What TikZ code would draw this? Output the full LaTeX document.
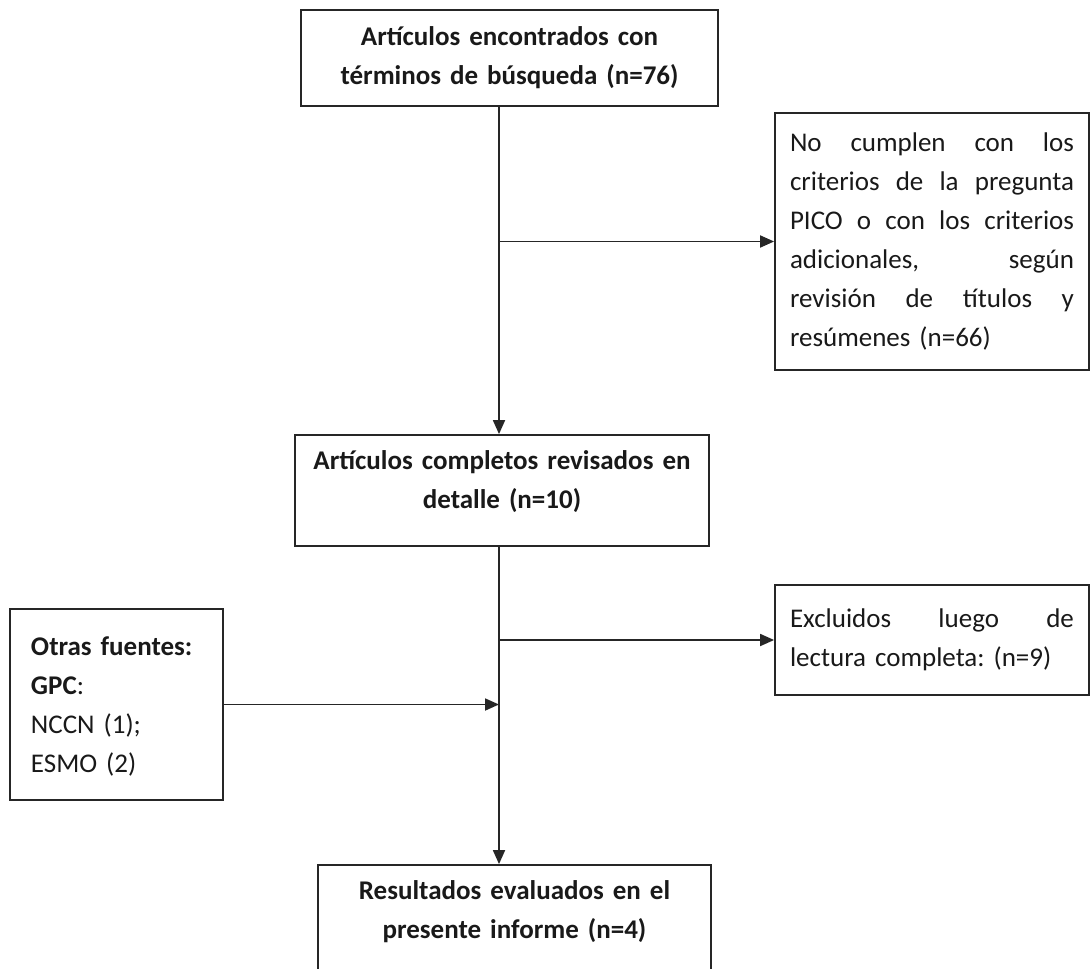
\documentclass[tikz,border=0pt]{standalone}
\usepackage{fontspec}
\setmainfont{Carlito}
\frenchspacing
\usetikzlibrary{arrows.meta}
\newcommand{\jline}[1]{\makebox[142pt][s]{#1}\\}
\tikzset{
  box/.style = {draw=black!85, line width=0.9pt, inner sep=0pt, text=black!90, font=\fontsize{13.5}{19.5}\selectfont},
  mainbox/.style = {box, align=center, font=\bfseries\fontsize{13.5}{19.5}\selectfont},
  sidebox/.style = {box, align=left},
  flow/.style = {draw=black!85, line width=0.9pt, -{Triangle[length=7pt,width=6pt]}}
}

\begin{document}
\begin{tikzpicture}[x=0.5pt,y=-0.5pt]
	\useasboundingbox (0,0) rectangle (1091,968);
	\coordinate (trunk) at (499,0);
	\node [mainbox, minimum width=208.5pt, minimum height=48pt, text width=200pt] (search) at (509.5,58)
		{Artículos encontrados con\\términos de búsqueda (n=76)};
	\node [sidebox, minimum width=157pt, minimum height=128.5pt, text width=142pt] (excl1) at (932,241.5)
		{\jline{No\hfill cumplen\hfill con\hfill los}\jline{criterios\hfill de\hfill la\hfill pregunta}\jline{PICO\hfill o\hfill con\hfill los\hfill criterios}\jline{adicionales,\hfill según}\jline{revisión\hfill de\hfill títulos\hfill y}resúmenes (n=66)};
	\node [mainbox, minimum width=207pt, minimum height=55.5pt, text width=200pt] (review) at (502,490.5)
		{Artículos completos revisados en\\detalle (n=10)\par\vspace{9pt}};
	\node [sidebox, minimum width=157pt, minimum height=55pt, text width=142pt] (excl2) at (932,640)
		{\jline{Excluidos\hfill luego\hfill de}lectura completa: (n=9)};
	\node [sidebox, minimum width=106.5pt, minimum height=95.5pt, text width=85.5pt] (other) at (116.5,704.5)
		{\textbf{Otras fuentes:}\\\textbf{GPC}:\\NCCN (1);\\ESMO (2)\par\vspace{-2pt}};
	\node [mainbox, minimum width=196.5pt, minimum height=55.5pt, text width=190pt] (result) at (514.5,920.5)
		{Resultados evaluados en el\\presente informe (n=4)\par\vspace{9pt}};

	\draw [flow] (search.south -| trunk) -- (review.north -| trunk);
	\draw [flow] (excl1.west -| trunk) -- (excl1.west);
	\draw [flow] (review.south -| trunk) -- (result.north -| trunk);
	\draw [flow] (excl2.west -| trunk) -- (excl2.west);
	\draw [flow] (other.east) -- (other.east -| trunk);
\end{tikzpicture}
\end{document}
